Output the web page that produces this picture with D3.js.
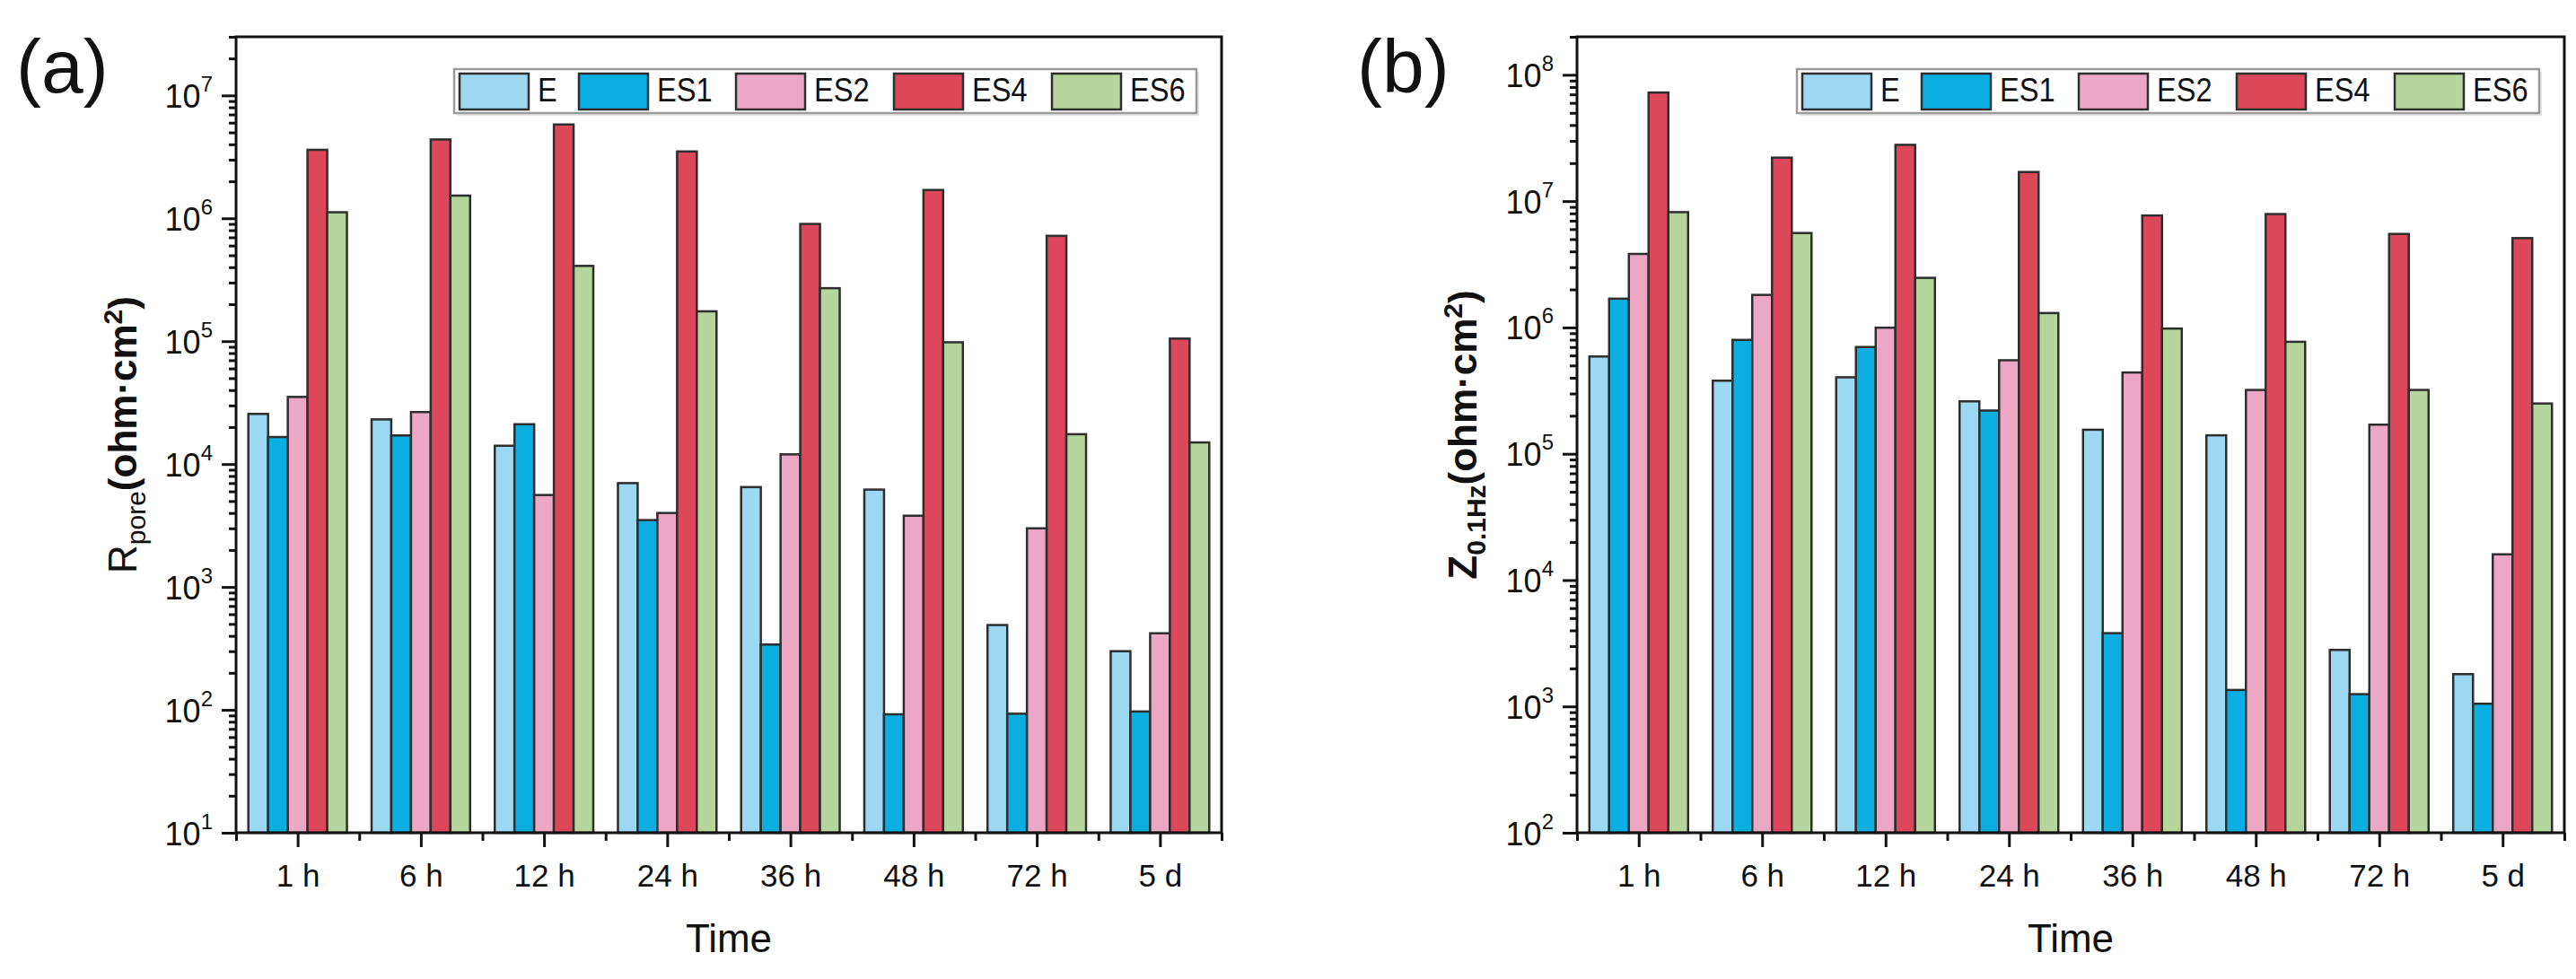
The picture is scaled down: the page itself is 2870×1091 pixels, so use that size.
<!DOCTYPE html>
<html>
<head>
<meta charset="utf-8">
<script src="https://cdn.jsdelivr.net/npm/d3@7"></script>
<style>
  body { margin: 0; background: #fff; }
  svg { display: block; font-family: "Liberation Sans", Arial, sans-serif; }
</style>
</head>
<body>
<svg id="chart" width="2870" height="1091"></svg>
<script>
// ---------------- data ----------------
const categories = ["1 h", "6 h", "12 h", "24 h", "36 h", "48 h", "72 h", "5 d"];
const seriesNames = ["E", "ES1", "ES2", "ES4", "ES6"];

// (a) R_pore (ohm·cm²)
const rporeE   = [2.56e4, 2.31e4, 1.41e4, 7.0e3, 6.5e3, 6.2e3, 490, 300];
const rporeES1 = [1.66e4, 1.71e4, 2.11e4, 3.5e3, 340, 92, 93, 97];
const rporeES2 = [3.52e4, 2.65e4, 5.6e3, 4.0e3, 1.2e4, 3.8e3, 3.0e3, 420];
const rporeES4 = [3.61e6, 4.38e6, 5.8e6, 3.5e6, 9.0e5, 1.7e6, 7.2e5, 1.05e5];
const rporeES6 = [1.12e6, 1.53e6, 4.1e5, 1.75e5, 2.7e5, 9.8e4, 1.75e4, 1.5e4];

// (b) Z_0.1Hz (ohm·cm²)
const zE   = [5.89e5, 3.79e5, 4.03e5, 2.6e5, 1.55e5, 1.4e5, 2.8e3, 1.8e3];
const zES1 = [1.69e6, 7.97e5, 7.0e5, 2.2e5, 3.8e3, 1.35e3, 1.25e3, 1.05e3];
const zES2 = [3.82e6, 1.81e6, 9.96e5, 5.5e5, 4.4e5, 3.2e5, 1.7e5, 1.6e4];
const zES4 = [7.24e7, 2.21e7, 2.79e7, 1.7e7, 7.7e6, 7.9e6, 5.5e6, 5.1e6];
const zES6 = [8.18e6, 5.59e6, 2.47e6, 1.3e6, 9.8e5, 7.7e5, 3.2e5, 2.5e5];

const yTickExpA = [1, 2, 3, 4, 5, 6, 7];
const yTickExpB = [2, 3, 4, 5, 6, 7, 8];
const yDomainA = [10, 3e7];
const yDomainB = [100, 2e8];

// ---------------- style ----------------
const colors = ["#9DD8F2", "#0AAEE0", "#EBA7C4", "#DC4759", "#B5D59C"];
const legendOffsets = [6, 139, 314, 490, 666];
const svg = d3.select("#chart");
svg.append("rect").attr("width", 2870).attr("height", 1091).attr("fill", "#fff");

function drawPanel(opts) {
  const { left, right, top, bottom, series, yDomain, tickExps, panelLabel, labelX, titleX, titleParts } = opts;
  const g = svg.append("g");
  const x0 = d3.scaleBand().domain(categories).range([left, right]).paddingInner(0.2).paddingOuter(0.1);
  const x1 = d3.scaleBand().domain(seriesNames).range([0, x0.bandwidth()]).padding(0);
  const y = d3.scaleLog().domain(yDomain).range([bottom, top]);

  // bars
  categories.forEach((cat, ci) => {
    series.forEach((arr, si) => {
      const v = arr[ci];
      g.append("rect")
        .attr("x", x0(cat) + x1(seriesNames[si]))
        .attr("y", y(v))
        .attr("width", x1.bandwidth())
        .attr("height", bottom - y(v))
        .attr("fill", colors[si])
        .attr("stroke", "#2e2e2e")
        .attr("stroke-width", 2.5);
    });
  });

  // y axis major ticks
  const majors = tickExps.map(e => Math.pow(10, e));
  const yAxis = d3.axisLeft(y).tickValues(majors).tickSize(16).tickFormat("");
  const ya = g.append("g").attr("transform", `translate(${left},0)`).call(yAxis);
  ya.select(".domain").remove();
  ya.selectAll("line").attr("stroke", "#111").attr("stroke-width", 3);
  ya.selectAll(".tick").each(function(d) {
    const e = Math.round(Math.log10(d));
    const t = d3.select(this).append("text")
      .attr("x", -26).attr("y", 13)
      .attr("text-anchor", "end")
      .attr("fill", "#111")
      .style("font-size", "36px");
    t.append("tspan").text("10");
    t.append("tspan").attr("dy", -18).style("font-size", "24px").text(String(e));
  });

  // y minor ticks
  const minors = [];
  for (let e = Math.floor(Math.log10(yDomain[0])); e <= Math.ceil(Math.log10(yDomain[1])); e++) {
    for (let k = 2; k <= 9; k++) {
      const v = k * Math.pow(10, e);
      if (v > yDomain[0] && v <= yDomain[1]) minors.push(v);
    }
  }
  const yMinor = d3.axisLeft(y).tickValues(minors).tickSize(8).tickFormat("");
  const ym = g.append("g").attr("transform", `translate(${left},0)`).call(yMinor);
  ym.select(".domain").remove();
  ym.selectAll("line").attr("stroke", "#111").attr("stroke-width", 3);

  // x axis major ticks
  const xCenter = d3.scalePoint().domain(categories).range([x0(categories[0]) + x0.bandwidth() / 2, x0(categories[categories.length - 1]) + x0.bandwidth() / 2]);
  const xAxis = d3.axisBottom(xCenter).tickSize(16).tickFormat("");
  const xa = g.append("g").attr("transform", `translate(0,${bottom})`).call(xAxis);
  xa.select(".domain").remove();
  xa.selectAll("line").attr("stroke", "#111").attr("stroke-width", 3);
  xa.selectAll(".tick").append("text")
    .attr("y", 60).attr("text-anchor", "middle").attr("fill", "#111")
    .style("font-size", "35px")
    .text(d => d);

  // x minor ticks at band boundaries
  const step = x0.step();
  const bounds = d3.range(categories.length + 1).map(i => left + i * step);
  const xb = d3.scaleLinear().domain([left, right]).range([left, right]);
  const xMinor = d3.axisBottom(xb).tickValues(bounds).tickSize(9).tickFormat("");
  const xm = g.append("g").attr("transform", `translate(0,${bottom})`).call(xMinor);
  xm.select(".domain").remove();
  xm.selectAll("line").attr("stroke", "#111").attr("stroke-width", 3);

  // frame
  g.append("rect").attr("x", left).attr("y", top).attr("width", right - left).attr("height", bottom - top)
    .attr("fill", "none").attr("stroke", "#111").attr("stroke-width", 3);

  // legend
  const legRight = right - 28;
  const legW = 827, legTop = top + 36, legH = 49;
  const legLeft = legRight - legW;
  const lg = g.append("g");
  lg.append("rect").attr("x", legLeft + 3).attr("y", legTop + 3).attr("width", legW).attr("height", legH)
    .attr("fill", "#e6e6e6").attr("stroke", "none");
  lg.append("rect").attr("x", legLeft).attr("y", legTop).attr("width", legW).attr("height", legH)
    .attr("fill", "#fff").attr("stroke", "#9a9a9a").attr("stroke-width", 2.5);
  seriesNames.forEach((name, i) => {
    const sx = legLeft + legendOffsets[i];
    lg.append("rect").attr("x", sx).attr("y", legTop + 5).attr("width", 77).attr("height", 40)
      .attr("fill", colors[i]).attr("stroke", "#2e2e2e").attr("stroke-width", 2.5);
    lg.append("text").attr("transform", `translate(${sx + 87},${legTop + 36}) scale(0.88,1)`)
      .attr("fill", "#111")
      .style("font-size", "37px").text(name);
  });

  // axis titles
  svg.append("text").attr("x", (left + right) / 2).attr("y", 1061).attr("text-anchor", "middle")
    .attr("fill", "#111").style("font-size", "44px").text("Time");

  const yt = svg.append("text")
    .attr("transform", `translate(${titleX},${(top + bottom) / 2}) rotate(-90)`)
    .attr("text-anchor", "middle").attr("fill", "#111").style("font-size", "44px");
  titleParts.forEach(p => {
    const ts = yt.append("tspan").text(p.t);
    if (p.bold) ts.style("font-weight", "bold");
    if (p.size) ts.style("font-size", p.size + "px");
    if (p.dy) ts.attr("dy", p.dy);
  });

  // panel label
  svg.append("text").attr("x", labelX).attr("y", 103).attr("fill", "#111")
    .style("font-size", "84px").text(panelLabel);
}

drawPanel({
  left: 263, right: 1361, top: 41, bottom: 928,
  series: [rporeE, rporeES1, rporeES2, rporeES4, rporeES6],
  yDomain: yDomainA, tickExps: yTickExpA,
  panelLabel: "(a)", labelX: 18, titleX: 152,
  titleParts: [
    { t: "R" },
    { t: "pore", size: 30, dy: 10 },
    { t: "(ohm·cm", bold: true, dy: -10 },
    { t: "2", bold: true, size: 30, dy: -16 },
    { t: ")", bold: true, dy: 16 }
  ]
});

drawPanel({
  left: 1757, right: 2857, top: 41, bottom: 928,
  series: [zE, zES1, zES2, zES4, zES6],
  yDomain: yDomainB, tickExps: yTickExpB,
  panelLabel: "(b)", labelX: 1512, titleX: 1645,
  titleParts: [
    { t: "Z", bold: true },
    { t: "0.1Hz", bold: true, size: 30, dy: 10 },
    { t: "(ohm·cm", bold: true, dy: -10 },
    { t: "2", bold: true, size: 30, dy: -16 },
    { t: ")", bold: true, dy: 16 }
  ]
});
</script>
</body>
</html>
